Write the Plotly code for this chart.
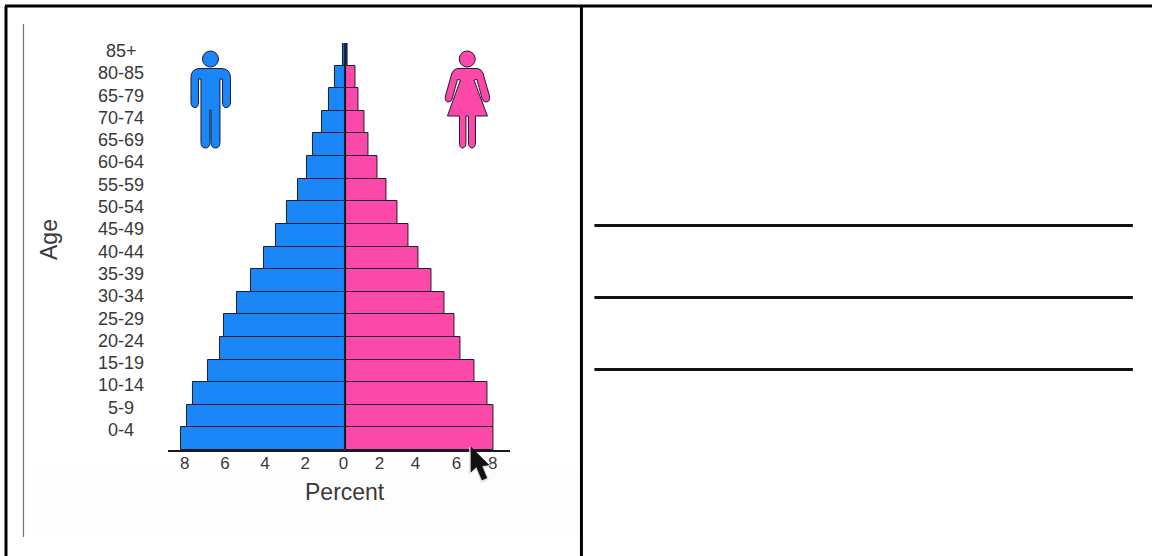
import re
import plotly.graph_objects as go

W, H = 1155, 556
ages = ["85+", "80-85", "65-79", "70-74", "65-69", "60-64", "55-59", "50-54", "45-49",
        "40-44", "35-39", "30-34", "25-29", "20-24", "15-19", "10-14", "5-9", "0-4"]
male = [0.1, 0.5, 0.8, 1.15, 1.6, 1.9, 2.35, 2.9, 3.45, 4.05, 4.7, 5.4, 6.05, 6.25, 6.85, 7.6, 7.9, 8.2]
female = [0.1, 0.55, 0.7, 1.05, 1.25, 1.75, 2.25, 2.8, 3.4, 3.95, 4.7, 5.4, 5.9, 6.25, 7.0, 7.7, 8.05, 8.05]
male_tick_pos = [8, 6, 4, 2, 0.1]
male_tick_text = ["8", "6", "4", "2", "0"]
female_tick_pos = [1.85, 3.8, 6.03, 8]
female_tick_text = ["2", "4", "6", "8"]

BLUE, PINK, EDGE, INK = "#1a86f8", "#fc48a8", "#1c1c30", "#383838"
FONT = "Liberation Sans"
XFIX = 1.0025


def px(x):
    return x * XFIX / W


def py(y):
    return 1 - y / H


def svg(path):
    """Turn a path written in page pixels into paper coordinates."""
    def conv(m):
        return f"{px(float(m.group(1))):.5f},{py(float(m.group(2))):.5f}"
    return re.sub(r"(-?[\d.]+)[ ,](-?[\d.]+)", conv, path)


MAN = ("M 200 68.5 L 221 68.5 Q 230.5 68.5 230.5 78 L 230.5 102 Q 230.5 107.5 226 107.5 "
       "Q 222.5 107.5 222.5 102 L 222.5 79 L 220 79 L 220 142 Q 220 148 215.5 148 "
       "Q 211 148 211 142 L 211 110 L 210 110 L 210 142 Q 210 148 205.5 148 "
       "Q 201 148 201 142 L 201 79 L 198.5 79 L 198.5 102 Q 198.5 107.5 195 107.5 "
       "Q 191 107.5 191 102 L 191 78 Q 191 68.5 200 68.5 Z")
WOMAN = ("M 458 68.5 L 477 68.5 Q 481 68.5 483 73 L 489.5 96 Q 490.5 102 486 102 "
         "Q 483 102 482 98 L 477 79.5 L 474 80 L 487.5 116 L 475.5 116 L 475.5 142 "
         "Q 475.5 148 472 148 Q 468.5 148 468.5 142 L 468.5 116 L 466 116 L 466 142 "
         "Q 466 148 462.5 148 Q 459.5 148 459.5 142 L 459.5 116 L 447.5 116 L 460.5 80 "
         "L 457.5 79.5 L 452.5 98 Q 451.5 102 448.5 102 Q 444.5 102 445.5 96 L 452 73 "
         "Q 454 68.5 458 68.5 Z")
CURSOR = "M 471 447 L 471 472 L 476.5 467 L 482 480 L 487 478 L 482 466 L 489 465 Z"
SHADOW = "M 469 446 L 469 475 L 476 470 L 481 483 L 489 480 L 484 468 L 492 466 Z"


def line(x0, y0, x1, y1, color, width):
    return dict(type="line", xref="paper", yref="paper", x0=px(x0), x1=min(px(x1), 1),
                y0=py(y0), y1=py(y1), line=dict(color=color, width=width))


def path(p, fill, color=EDGE, width=1.0):
    return dict(type="path", xref="paper", yref="paper", path=svg(p), fillcolor=fill,
                line=dict(color=color, width=width))


def circle(cx, cy, r, fill):
    return dict(type="circle", xref="paper", yref="paper", x0=px(cx - r), x1=px(cx + r),
                y0=py(cy + r), y1=py(cy - r), fillcolor=fill, line=dict(color=EDGE, width=1.0))


rows = list(range(len(ages)))[::-1]
fig = go.Figure()
fig.add_trace(go.Bar(x=male, y=rows, orientation="h", width=1, xaxis="x", yaxis="y",
                     marker=dict(color=BLUE, line=dict(color=EDGE, width=1)),
                     name="Male", showlegend=False))
fig.add_trace(go.Bar(x=female, y=rows, orientation="h", width=1, xaxis="x2", yaxis="y",
                     marker=dict(color=PINK, line=dict(color=EDGE, width=1)),
                     name="Female", showlegend=False))

annotations = [dict(text=a, x=px(121.5), xref="paper", y=0.385 + r * 0.986, yref="y", xanchor="center",
                    yanchor="middle", showarrow=False, font=dict(family=FONT, size=18, color=INK))
               for a, r in zip(ages, rows)]
annotations.append(dict(text="Percent", x=px(345), y=py(492), xref="paper", yref="paper",
                        xanchor="center", yanchor="middle", showarrow=False,
                        font=dict(family=FONT, size=23, color=INK)))
annotations.append(dict(text="Age", x=px(49), y=py(239), xref="paper", yref="paper", textangle=-90,
                        xanchor="center", yanchor="middle", showarrow=False,
                        font=dict(family=FONT, size=23, color=INK)))

shapes = [
    dict(type="rect", xref="paper", yref="paper", x0=px(32), x1=px(578), y0=py(537), y1=py(470),
         fillcolor="#fefdfe", line=dict(width=0), layer="below"),
    line(5, 6, W, 6, "#000000", 3),
    line(6, 6, 6, H, "#000000", 3),
    line(581.5, 6, 581.5, H, "#000000", 3),
    line(23.5, 24, 23.5, 537, "#777777", 1.2),
    line(594.5, 225.5, 1133, 225.5, "#111111", 3),
    line(594.5, 297.5, 1133, 297.5, "#111111", 3),
    line(594.5, 369.5, 1133, 369.5, "#111111", 3),
    line(345.5, 66, 345.5, 450, "#111122", 1.2),
    line(345.5, 43, 345.5, 66, "#15254a", 3.5),
    path(MAN, BLUE),
    circle(210.5, 59, 8, BLUE),
    path(WOMAN, PINK),
    circle(467.3, 59, 8, PINK),
    dict(type="path", xref="paper", yref="paper", path=svg(SHADOW), fillcolor="rgba(225,225,225,0.8)",
         line=dict(width=0)),
    path(CURSOR, "#111111", "#111111", 0.5),
]

axis_common = dict(showgrid=False, zeroline=False, showline=True, linecolor="#1a1a1a", linewidth=2,
                   ticks="", anchor="y", fixedrange=True, ticklabelstandoff=-3,
                   tickfont=dict(family=FONT, size=17, color=INK), tickmode="array")
fig.update_layout(
    width=W, height=H, margin=dict(l=0, r=0, t=0, b=0),
    paper_bgcolor="#ffffff", plot_bgcolor="rgba(0,0,0,0)",
    barmode="overlay", bargap=0,
    xaxis=dict(domain=[px(168), px(345.5)], range=[177.5 / 20.1, 0],
               tickvals=male_tick_pos, ticktext=male_tick_text, **axis_common),
    xaxis2=dict(domain=[px(345.5), px(510)], range=[0, 164.5 / 18.4],
                tickvals=female_tick_pos, ticktext=female_tick_text, **axis_common),
    yaxis=dict(domain=[py(450), py(43)], range=[-0.5, 17.5], visible=False, fixedrange=True),
    annotations=annotations, shapes=shapes,
)
fig.write_html("out.html", config=dict(displayModeBar=False),
               post_script="document.body.style.margin='0';document.documentElement.style.overflow='hidden';")
